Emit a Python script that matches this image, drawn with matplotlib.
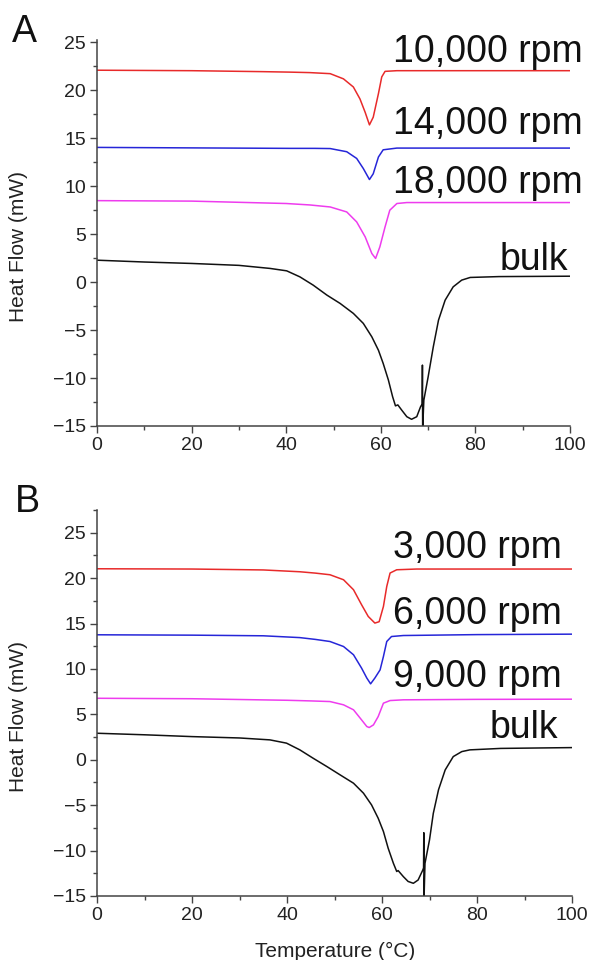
import matplotlib

matplotlib.use("Agg")
import matplotlib.pyplot as plt
from matplotlib.ticker import MultipleLocator

plt.rcParams["font.family"] = ["Liberation Sans", "DejaVu Sans"]

# ---- panel A (10k / 14k / 18k rpm + bulk) ----
a_red_x = [0, 20, 35, 40.8, 45, 49.3, 52.1, 54.2, 55.6, 56.7, 57.6, 58.4, 59.5, 60.2, 60.9, 63.4, 80, 100]
a_red_y = [22.1, 22.05, 21.95, 21.9, 21.85, 21.74, 21.2, 20.35, 19.1, 17.7, 16.4, 17.2, 19.66, 21.4, 21.98, 22.05, 22.05, 22.05]

a_blue_x = [0, 20, 40.8, 46, 49.3, 52.8, 54.9, 56.3, 57.6, 58.4, 59.5, 60.5, 63.4, 80, 100]
a_blue_y = [14.05, 14.0, 13.95, 13.95, 13.93, 13.6, 12.9, 11.85, 10.7, 11.3, 13.05, 13.8, 13.98, 13.98, 13.98]

a_mag_x = [0, 20, 40, 45, 49.3, 52.8, 54.9, 56.7, 58.1, 58.9, 59.8, 60.9, 61.9, 63.4, 65.5, 80, 100]
a_mag_y = [8.5, 8.45, 8.2, 8.05, 7.84, 7.32, 6.28, 4.72, 2.99, 2.47, 3.68, 5.76, 7.5, 8.2, 8.3, 8.3, 8.3]

a_bulk_x = [0, 10, 20, 30, 36.6, 40.1, 42.9, 45.7, 48.6, 51.4, 54.2, 56.3, 58.1, 59.5, 60.5, 61.6, 62.5, 63.1, 63.6,
            64.4, 65.5, 66.5, 67.6, 68.4, 68.75, 68.8, 68.85, 69.1, 70.0, 71.1, 72.2, 73.6, 75.3, 77.1, 78.9, 85, 100]
a_bulk_y = [2.29, 2.1, 1.95, 1.75, 1.43, 1.18, 0.55, -0.31, -1.35, -2.22, -3.26, -4.3, -5.7, -7.1, -8.47, -10.2, -11.95, -12.9, -12.8,
            -13.33, -14.03, -14.3, -14.03, -13.0, -12.7, -8.65, -15.3, -12.3, -9.9, -6.74, -3.96, -1.88, -0.49, 0.21, 0.49, 0.58, 0.62]

a_labels = ["10,000 rpm", "14,000 rpm", "18,000 rpm", "bulk"]

# ---- panel B (3k / 6k / 9k rpm + bulk) ----
b_red_x = [0, 20, 35, 42.7, 46, 49.05, 51.9, 54.0, 55.7, 57.1, 58.5, 59.4, 60.3, 61.0, 61.7, 63.1, 67.3, 100]
b_red_y = [21.03, 21.0, 20.9, 20.7, 20.55, 20.37, 19.82, 18.72, 17.07, 15.78, 15.05, 15.2, 16.88, 19.08, 20.56, 20.92, 21.0, 21.0]

b_blue_x = [0, 20, 35, 42.7, 46, 49.05, 51.9, 54.0, 55.7, 56.8, 57.6, 58.5, 59.6, 60.3, 61.0, 62.0, 64.5, 80, 100]
b_blue_y = [13.76, 13.72, 13.65, 13.45, 13.25, 13.02, 12.47, 11.56, 10.09, 9.0, 8.36, 9.0, 9.9, 11.37, 13.02, 13.57, 13.68, 13.78, 13.83]

b_mag_x = [0, 20, 40, 45, 49.05, 51.9, 54.0, 55.7, 56.8, 57.3, 58.2, 59.2, 60.3, 61.7, 64.5, 80, 100]
b_mag_y = [6.77, 6.72, 6.55, 6.48, 6.41, 6.05, 5.5, 4.39, 3.66, 3.55, 3.84, 4.76, 6.23, 6.52, 6.6, 6.65, 6.67]

b_bulk_x = [0, 10, 20, 30, 36.4, 39.9, 42.7, 45.5, 48.4, 51.2, 54.0, 56.1, 57.8, 59.2, 60.3, 61.3, 62.4, 63.1, 63.4,
            64.5, 65.5, 66.6, 67.6, 68.6, 68.75, 68.8, 68.85, 69.05, 70.0, 70.8, 71.9, 73.3, 75.0, 76.8, 78.5, 85, 100]
b_bulk_y = [2.92, 2.75, 2.55, 2.4, 2.19, 1.83, 1.09, 0.17, -0.75, -1.67, -2.58, -3.68, -4.97, -6.44, -7.9, -9.74, -11.4, -12.3, -12.2,
            -12.87, -13.4, -13.6, -13.24, -12.13, -11.9, -8.03, -15.3, -11.4, -8.83, -5.9, -3.3, -1.12, 0.35, 0.9, 1.09, 1.25, 1.34]

b_labels = ["3,000 rpm", "6,000 rpm", "9,000 rpm", "bulk"]

colors = ["#e82a2a", "#2626d8", "#ee3cee", "#111111"]
axis_color = "#444444"


def style_axis(ax, ytop):
    ax.set_xlim(0, 100)
    ax.set_ylim(-15, ytop)
    ax.spines["top"].set_visible(False)
    ax.spines["right"].set_visible(False)
    for side in ("left", "bottom"):
        ax.spines[side].set_color(axis_color)
        ax.spines[side].set_linewidth(1.1)
    ax.xaxis.set_major_locator(MultipleLocator(20))
    ax.xaxis.set_minor_locator(MultipleLocator(10))
    ax.yaxis.set_major_locator(MultipleLocator(5))
    ax.yaxis.set_minor_locator(MultipleLocator(2.5))
    ax.tick_params(which="major", direction="out", length=5, width=1.0, color=axis_color,
                   labelsize=14, labelcolor="#222222", pad=3)
    ax.tick_params(which="minor", direction="out", length=3, width=1.0, color=axis_color)
    ax.set_ylabel("Heat Flow (mW)", fontsize=15, color="#222222")
    ax.yaxis.set_label_coords(-0.146, 0.464)


def draw_panel(ax, curves, labels, label_pos):
    for (x, y), c in zip(curves, colors):
        ax.plot(x, y, color=c, linewidth=1.1, solid_joinstyle="round")
    for text, (lx, ly) in zip(labels, label_pos):
        ax.text(lx, ly, text, ha="right", va="baseline", fontsize=27, color="#111111")


fig = plt.figure(figsize=(5.9, 9.6), dpi=100)
fig.patch.set_facecolor("white")

ax_a = fig.add_axes([97 / 590, 1 - 426 / 960, 473 / 590, 386 / 960])
draw_panel(
    ax_a,
    [(a_red_x, a_red_y), (a_blue_x, a_blue_y), (a_mag_x, a_mag_y), (a_bulk_x, a_bulk_y)],
    a_labels,
    [(102.7, 22.95), (102.7, 15.5), (102.7, 9.3), (99.6, 1.25)],
)
style_axis(ax_a, 25.25)

ax_b = fig.add_axes([97 / 590, 64 / 960, 475 / 590, 386 / 960])
draw_panel(
    ax_b,
    [(b_red_x, b_red_y), (b_blue_x, b_blue_y), (b_mag_x, b_mag_y), (b_bulk_x, b_bulk_y)],
    b_labels,
    [(97.9, 22.2), (97.9, 14.97), (97.9, 8.06), (97.0, 2.38)],
)
style_axis(ax_b, 27.5)

fig.text(335 / 590, 1 - 957 / 960, "Temperature (°C)", ha="center", va="baseline", fontsize=15, color="#222222")
fig.text(12 / 590, 1 - 41.7 / 960, "A", ha="left", va="baseline", fontsize=27, color="#111111")
fig.text(15 / 590, 1 - 511.7 / 960, "B", ha="left", va="baseline", fontsize=27, color="#111111")

fig.savefig("out.png", dpi=100)
plt.close(fig)
